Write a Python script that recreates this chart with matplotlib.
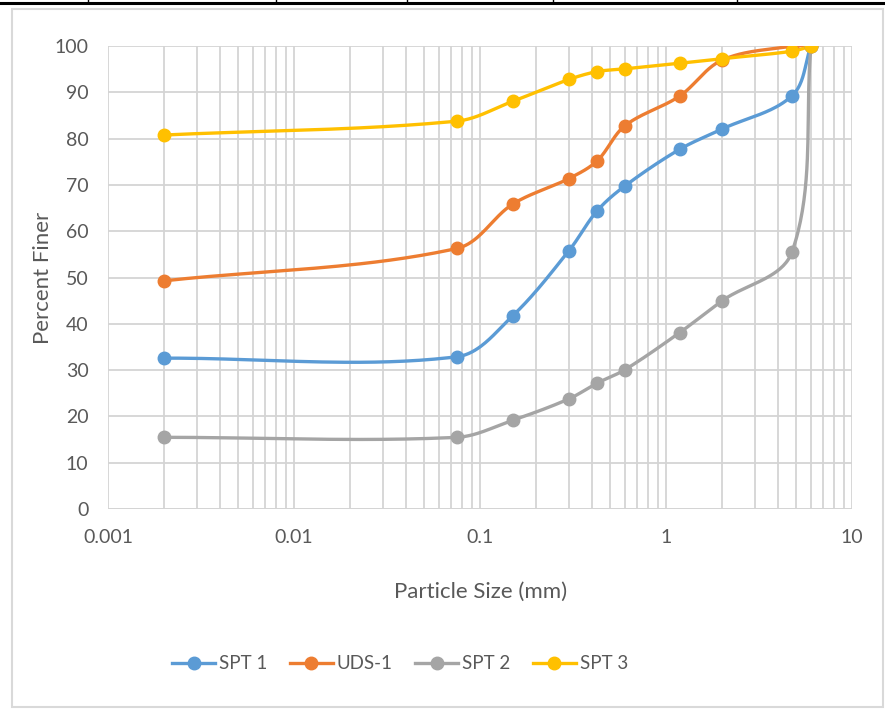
# coding=utf-8

import numpy as np
import matplotlib.pyplot as plt
from matplotlib.lines import Line2D
from matplotlib.patches import Rectangle

# sieve sizes (mm) and percent finer for each sample
sizes = [0.002, 0.075, 0.15, 0.3, 0.425, 0.6, 1.18, 2.0, 4.75, 6.0]
spt1 = [32.6, 32.9, 41.8, 55.8, 64.4, 69.8, 77.7, 82.1, 89.3, 100.0]
uds1 = [49.3, 56.3, 65.9, 71.4, 75.2, 82.8, 89.2, 97.0, 100.0, 100.0]
spt2 = [15.5, 15.5, 19.2, 23.8, 27.2, 30.1, 38.1, 45.0, 55.6, 100.0]
spt3 = [80.8, 83.8, 88.1, 92.8, 94.5, 95.1, 96.3, 97.3, 98.9, 100.0]

series = [
    ('SPT 1', spt1, '#5B9BD5'),
    ('UDS-1', uds1, '#ED7D31'),
    ('SPT 2', spt2, '#A5A5A5'),
    ('SPT 3', spt3, '#FFC000'),
]

plt.rcParams['font.family'] = ['Lato', 'DejaVu Sans']
text_color = '#595959'
grid_color = '#D4D4D4'


def smooth(ax, x, y, n=40):
    # smoothed line like a spreadsheet chart: bezier pieces through the points, in display space
    pts = ax.transData.transform(np.column_stack([x, y]))
    p = np.vstack([pts[0], pts, pts[-1]])
    out = []
    for i in range(1, len(p) - 2):
        p0, p1, p2, p3 = p[i - 1], p[i], p[i + 1], p[i + 2]
        seg_len = np.hypot(*(p2 - p1))
        d1 = (p2 - p0) / np.hypot(*(p2 - p0))
        d2 = (p3 - p1) / np.hypot(*(p3 - p1))
        c1 = p1 + d1 * seg_len / 3.0
        c2 = p2 - d2 * seg_len / 3.0
        t = np.linspace(0, 1, n)[:, None]
        seg = ((1 - t) ** 3) * p1 + 3 * ((1 - t) ** 2) * t * c1 + 3 * (1 - t) * t ** 2 * c2 + t ** 3 * p2
        out.append(seg if i == 1 else seg[1:])
    out = np.vstack(out)
    data = ax.transData.inverted().transform(out)
    return data[:, 0], data[:, 1]


fig = plt.figure(figsize=(8.85, 7.10), dpi=100)
ax = fig.add_axes([0.122, 0.283, 0.841, 0.652])

ax.set_xscale('log')
ax.set_xlim(0.001, 10)
ax.set_ylim(0, 100)
ax.set_yticks(range(0, 101, 10))
ax.set_xticks([0.001, 0.01, 0.1, 1, 10])
ax.set_xticklabels(['0.001', '0.01', '0.1', '1', '10'])

ax.grid(True, which='major', axis='both', color=grid_color, lw=1.3)
ax.grid(True, which='minor', axis='x', color=grid_color, lw=1.3)
ax.set_axisbelow(True)
for s in ax.spines.values():
    s.set_visible(False)
ax.axhline(0, color=grid_color, lw=1.3, zorder=0.5)
ax.tick_params(which='both', length=0, colors=text_color, labelsize=14)
ax.tick_params(axis='y', pad=14)
ax.tick_params(axis='x', pad=14)

for label, vals, color in series:
    xs, ys = smooth(ax, sizes, vals)
    ax.plot(xs, ys, color=color, lw=2.4, solid_capstyle='round', zorder=3)
    ax.plot(sizes, vals, 'o', color=color, ms=9, zorder=4)

ax.set_xlabel('Particle Size (mm)', color=text_color, fontsize=16, labelpad=26)
ax.set_ylabel('Percent Finer', color=text_color, fontsize=16, labelpad=1)

handles = [Line2D([0], [0], color=c, lw=2.4, marker='o', ms=9) for _, _, c in series]
fig.legend(handles, [s[0] for s in series], loc='center', bbox_to_anchor=(0.452, 0.065),
           ncol=4, frameon=False, fontsize=13.5, labelcolor=text_color,
           handlelength=2.3, columnspacing=1.2, handletextpad=0.2)

# chart frame and the table rule above it
fig.patches.append(Rectangle((12 / 885, 3 / 710), 871 / 885, 698 / 710, transform=fig.transFigure,
                             fill=False, edgecolor='#D9D9D9', lw=1.5))
fig.add_artist(Line2D([0, 1], [1 - 3 / 710, 1 - 3 / 710], color='black', lw=2.2))
for xp in [88, 276, 407, 553, 737]:
    fig.add_artist(Line2D([xp / 885, xp / 885], [1 - 3 / 710, 1], color='black', lw=1))

fig.savefig('out.png', dpi=100)
